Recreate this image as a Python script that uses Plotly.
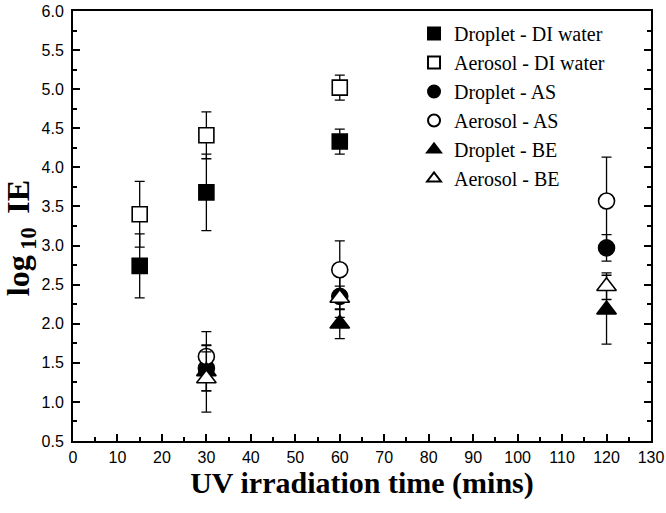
import plotly.graph_objects as go

# ---- data ----
series_names = ["Droplet - DI water", "Aerosol - DI water", "Droplet - AS",
                "Aerosol - AS", "Droplet - BE", "Aerosol - BE"]

drop_di_x = [15, 30, 60]
drop_di_y = [2.74, 3.68, 4.33]
drop_di_err = [0.41, 0.49, 0.16]

aero_di_x = [15, 30, 60]
aero_di_y = [3.40, 4.41, 5.02]
aero_di_err = [0.42, 0.30, 0.16]

drop_as_x = [30, 60, 120]
drop_as_y = [1.43, 2.35, 2.97]
drop_as_err = [0.29, 0.27, 0.17]

aero_as_x = [30, 60, 120]
aero_as_y = [1.58, 2.69, 3.57]
aero_as_err = [0.32, 0.37, 0.56]

drop_be_x = [30, 60, 120]
drop_be_y = [1.39, 2.00, 2.18]
drop_be_err = [0.25, 0.19, 0.44]

aero_be_x = [30, 60, 120]
aero_be_y = [1.30, 2.33, 2.48]
aero_be_err = [0.43, 0.15, 0.17]

x_ticks = list(range(0, 131, 10))
y_ticks = [0.5, 1.0, 1.5, 2.0, 2.5, 3.0, 3.5, 4.0, 4.5, 5.0, 5.5, 6.0]

series = [
    (drop_di_x, drop_di_y, drop_di_err, "square", True),
    (aero_di_x, aero_di_y, aero_di_err, "square", False),
    (drop_as_x, drop_as_y, drop_as_err, "circle", True),
    (aero_as_x, aero_as_y, aero_as_err, "circle", False),
    (drop_be_x, drop_be_y, drop_be_err, "triangle-up", True),
    (aero_be_x, aero_be_y, aero_be_err, "triangle-up", False),
]
sizes = {"square": 15, "circle": 16, "triangle-up": 17}

fig = go.Figure()
for name, (xs, ys, es, sym, filled) in zip(series_names, series):
    fig.add_trace(go.Scatter(
        x=xs, y=ys, mode="markers", name=name,
        marker=dict(symbol=sym, size=sizes[sym],
                    color="black" if filled else "white",
                    line=dict(color="black", width=1.6)),
        error_y=dict(type="data", array=es, visible=True,
                     color="black", thickness=1.3, width=5),
    ))

axis_font = dict(family="Liberation Sans, Arial, sans-serif", size=16, color="black")
title_font = dict(family="Liberation Serif, Times New Roman, serif", size=30, color="black")
ytitle_font = dict(family="Liberation Serif, Times New Roman, serif", size=32, color="black")

fig.update_layout(
    width=666, height=513,
    margin=dict(l=73, r=15, t=11, b=72),
    paper_bgcolor="white", plot_bgcolor="white",
    showlegend=True,
    legend=dict(x=0.59, y=0.993, xanchor="left", yanchor="top",
                bgcolor="rgba(0,0,0,0)", borderwidth=0,
                font=dict(family="Liberation Serif, Times New Roman, serif", size=20, color="black"),
                itemsizing="constant", tracegroupgap=0),
    xaxis=dict(range=[0, 130], tickvals=x_ticks, ticktext=[str(v) for v in x_ticks],
               ticks="inside", ticklen=7, tickwidth=1.5, tickcolor="black",
               minor=dict(dtick=5, ticks="inside", ticklen=4, tickwidth=1.5, tickcolor="black"),
               showline=True, linecolor="black", linewidth=2, mirror=True,
               showgrid=False, zeroline=False, tickfont=axis_font, ticklabelstandoff=1,
               automargin=False,
               title=dict(text="<b>UV irradiation time (mins)</b>", font=title_font, standoff=5)),
    yaxis=dict(range=[0.5, 6.0], tickvals=y_ticks, ticktext=[f"{v:.1f}" for v in y_ticks],
               ticks="inside", ticklen=7, tickwidth=1.5, tickcolor="black",
               minor=dict(dtick=0.25, ticks="inside", ticklen=4, tickwidth=1.5, tickcolor="black"),
               showline=True, linecolor="black", linewidth=2, mirror="ticks",
               showgrid=False, zeroline=False, tickfont=axis_font, ticklabelstandoff=4,
               automargin=False,
               title=dict(text="<b>log<sub> 10 </sub> IE</b>&#160;&#160;&#160;",
                          font=ytitle_font, standoff=25)),
)

fig.write_html("out.html", config={"displayModeBar": False},
               post_script="document.body.style.margin='0';")
